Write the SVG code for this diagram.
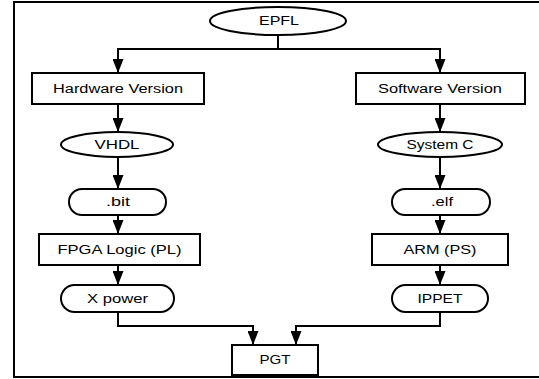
<svg xmlns="http://www.w3.org/2000/svg" width="539" height="379" viewBox="0 0 539 379">
<style>
.s{fill:#fff;stroke:#000;stroke-width:2}
.c{fill:none;stroke:#000;stroke-width:2}
text{font-family:"Liberation Sans",Arial,sans-serif;font-size:12px;fill:#000;text-anchor:middle;dominant-baseline:central}
</style>
<defs>
<marker id="a" viewBox="0 0 14 11" refX="14" refY="5.5" markerWidth="14" markerHeight="11" markerUnits="userSpaceOnUse" orient="auto">
<path d="M0,0 L14,5.5 L0,11 Z" fill="#000"/>
</marker>
</defs>
<rect x="14" y="2" width="540" height="375" fill="#fff" stroke="#000" stroke-width="2"/>
<g id="connectors">
<path class="c" d="M278,35 V49"/>
<path class="c" d="M278,49 H118 V73" marker-end="url(#a)"/>
<path class="c" d="M278,49 H440 V73" marker-end="url(#a)"/>
<path class="c" d="M118,104 V132" marker-end="url(#a)"/>
<path class="c" d="M440,104 V132" marker-end="url(#a)"/>
<path class="c" d="M118,157 V189" marker-end="url(#a)"/>
<path class="c" d="M440,157 V189" marker-end="url(#a)"/>
<path class="c" d="M118,215 V234" marker-end="url(#a)"/>
<path class="c" d="M440,215 V234" marker-end="url(#a)"/>
<path class="c" d="M118,265 V285" marker-end="url(#a)"/>
<path class="c" d="M440,265 V285" marker-end="url(#a)"/>
<path class="c" d="M118,312 V326 H253 V345" marker-end="url(#a)"/>
<path class="c" d="M440,312 V326 H296 V345" marker-end="url(#a)"/>
</g>
<g id="epfl"><ellipse class="s" cx="278" cy="21" rx="68" ry="14"/><text x="279" y="21" textLength="40" lengthAdjust="spacingAndGlyphs">EPFL</text></g>
<g id="hw"><rect class="s" x="32" y="73" width="172" height="31"/><text x="118" y="88.5" textLength="130" lengthAdjust="spacingAndGlyphs">Hardware Version</text></g>
<g id="sw"><rect class="s" x="356" y="73" width="169" height="31"/><text x="440" y="88.5" textLength="124" lengthAdjust="spacingAndGlyphs">Software Version</text></g>
<g id="vhdl"><ellipse class="s" cx="117" cy="144.5" rx="56" ry="12.5"/><text x="117" y="144.5" textLength="45" lengthAdjust="spacingAndGlyphs">VHDL</text></g>
<g id="systemc"><ellipse class="s" cx="440" cy="144.5" rx="62" ry="12.5"/><text x="440" y="144.5" textLength="67" lengthAdjust="spacingAndGlyphs">System C</text></g>
<g id="bit"><rect class="s" x="69" y="189" width="97" height="26" rx="13"/><text x="118" y="202" textLength="24" lengthAdjust="spacingAndGlyphs">.bit</text></g>
<g id="elf"><rect class="s" x="392" y="189" width="98" height="26" rx="13"/><text x="442" y="202" textLength="22" lengthAdjust="spacingAndGlyphs">.elf</text></g>
<g id="fpga"><rect class="s" x="39" y="234" width="161" height="31"/><text x="119.5" y="249.5" textLength="124" lengthAdjust="spacingAndGlyphs">FPGA Logic (PL)</text></g>
<g id="arm"><rect class="s" x="372" y="234" width="136" height="31"/><text x="440" y="249.5" textLength="73" lengthAdjust="spacingAndGlyphs">ARM (PS)</text></g>
<g id="xpower"><rect class="s" x="61" y="285" width="113" height="27" rx="13.5"/><text x="117.5" y="298.5" textLength="61" lengthAdjust="spacingAndGlyphs">X power</text></g>
<g id="ippet"><rect class="s" x="392" y="285" width="96" height="27" rx="13.5"/><text x="440" y="298.5" textLength="45" lengthAdjust="spacingAndGlyphs">IPPET</text></g>
<g id="pgt"><rect class="s" x="232" y="345" width="86" height="30"/><text x="275" y="360" textLength="31" lengthAdjust="spacingAndGlyphs">PGT</text></g>
</svg>
